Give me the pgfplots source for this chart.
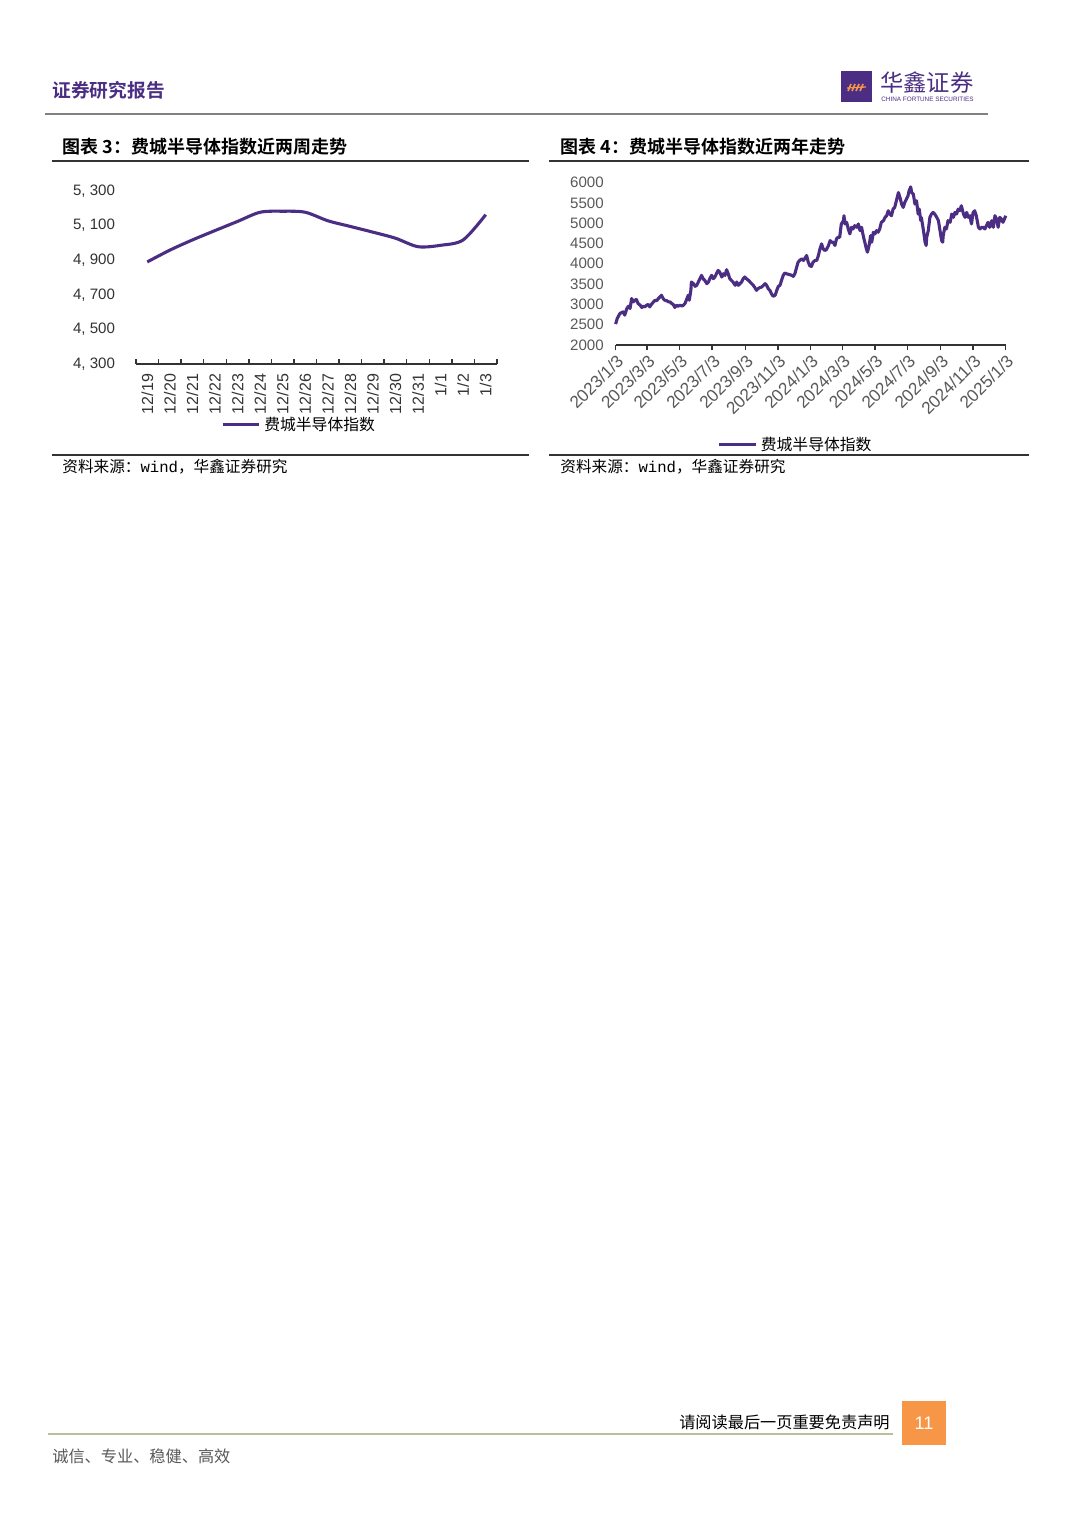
\documentclass[border=0pt]{standalone}
\usepackage{pgfplots}
\pgfplotsset{compat=1.18}
\usepackage{fontspec}
\setmainfont{Liberation Sans}
\newfontfamily\cjk{Noto Sans CJK SC}[BoldFont={Noto Sans CJK SC Bold}]
\newfontfamily\mono{Liberation Mono}
\definecolor{pur}{HTML}{4B2E83}
\definecolor{lgray}{HTML}{595959}
\definecolor{dgray}{HTML}{333333}
\definecolor{org}{HTML}{F79646}
\definecolor{olive}{HTML}{B9C096}
\pgfplotstableread{
d v
0 2515
3 2654
8 2776
14 2816
17 2735
21 2899
24 2955
27 2899
30 3144
33 3061
36 3103
39 3120
42 3022
46 2980
49 2924
52 2955
55 2940
58 2980
61 3000
64 2940
67 3000
71 3061
74 3103
77 3090
80 3144
83 3184
86 3225
89 3144
92 3103
96 3090
99 3061
102 3061
105 3022
108 3000
111 2924
114 2980
117 2955
121 2980
124 2960
127 2980
130 3022
133 3120
136 3225
138 3103
141 3347
142 3551
146 3510
149 3445
152 3470
155 3551
158 3633
161 3715
164 3633
167 3592
171 3510
174 3551
177 3650
180 3715
183 3633
186 3674
189 3756
192 3837
195 3796
199 3674
202 3756
205 3715
208 3854
211 3756
214 3633
217 3592
220 3551
224 3470
227 3551
230 3470
233 3510
236 3551
239 3633
242 3674
245 3633
249 3592
252 3551
255 3510
258 3470
261 3413
264 3347
267 3388
270 3413
274 3429
277 3470
280 3510
283 3470
286 3388
289 3347
292 3266
295 3200
299 3225
302 3347
305 3445
308 3470
311 3592
314 3715
317 3772
320 3756
324 3740
327 3730
330 3715
333 3690
336 3756
339 3903
342 4041
345 4083
349 4124
352 4083
355 4140
358 4205
361 4041
364 3950
367 3935
370 4041
374 4083
377 4083
380 4205
383 4369
386 4491
389 4369
392 4328
395 4350
399 4450
402 4573
405 4532
408 4532
411 4450
414 4614
417 4654
420 4654
423 4981
427 5063
428 5185
430 4981
433 5022
436 4859
439 4736
442 4899
445 4859
448 4940
452 4899
455 4981
458 4818
461 4899
464 4695
467 4532
470 4369
472 4287
475 4450
478 4695
480 4532
483 4777
486 4736
489 4818
492 4777
495 4859
498 5022
502 5063
505 5144
508 5185
511 5307
514 5226
517 5185
520 5348
523 5389
527 5593
530 5756
533 5634
536 5471
539 5389
542 5512
545 5593
548 5675
550 5797
553 5895
555 5756
558 5715
561 5471
564 5553
567 5226
569 5348
572 5063
573 5144
577 4818
580 4532
582 4450
583 4654
586 4818
589 5144
592 5226
595 5266
598 5226
602 5144
605 5063
608 4818
611 4573
613 4532
614 4695
617 4899
620 4859
623 5063
627 5022
630 5226
633 5144
636 5266
639 5226
642 5348
645 5307
648 5430
652 5226
655 5144
658 5266
661 5144
664 5185
667 4981
670 5266
673 5307
676 5185
680 4899
683 4859
686 4899
689 4899
692 4859
695 4940
698 5022
701 4899
705 5063
708 4899
711 5185
714 5103
717 4899
720 5144
723 5103
726 5022
730 5144
731 5185
}\twoyear
\pgfplotstableread{
x v
0 4890
1 4958
2 5017
3 5071
4 5124
5 5177
6 5183
7 5177
8 5128
9 5095
10 5062
11 5027
12 4978
13 4986
14 5017
15 5163
}\twoweek
\begin{document}
\begin{tikzpicture}
\path[fill=white,use as bounding box] (0pt,0pt) rectangle (594pt,840.4pt);
\begin{scope}[x=0.55pt,y=-0.55pt,yshift=840.4pt]
% header
\node[anchor=west,text=pur,font=\cjk\bfseries\fontsize{10.3pt}{12pt}\selectfont,inner sep=0pt] at (52,90) {证券研究报告};
\fill[pur] (841,71) rectangle (872,102);
\draw[org,line width=0.9pt] (848,91) -- (851,84) (852,91) -- (855,84) (856,91) -- (859,84) (860,91) -- (863,84);
\draw[org,line width=0.7pt] (847,88) -- (866,87);
\node[anchor=west,text=pur,font=\cjk\fontsize{12.8pt}{14pt}\selectfont,inner sep=0pt] at (880,83) {华鑫证券};
\node[anchor=west,text=pur,font=\fontsize{3.5pt}{4pt}\selectfont,inner sep=0pt] at (881,99.5) {CHINA FORTUNE SECURITIES};
\draw[gray,line width=0.6pt] (45,114) -- (988,114);
% titles
\node[anchor=west,font=\cjk\bfseries\fontsize{9.9pt}{12pt}\selectfont,inner sep=0pt] at (62,147) {图表 3：费城半导体指数近两周走势};
\node[anchor=west,font=\cjk\bfseries\fontsize{9.9pt}{12pt}\selectfont,inner sep=0pt] at (560,147) {图表 4：费城半导体指数近两年走势};
\draw[dgray,line width=0.6pt] (52,161) -- (529,161);
\draw[dgray,line width=0.6pt] (549,161) -- (1029,161);
\draw[dgray,line width=0.6pt] (52,455) -- (529,455);
\draw[dgray,line width=0.6pt] (549,455) -- (1029,455);
\node[anchor=west,font=\cjk\fontsize{8.6pt}{10pt}\selectfont,inner sep=0pt] at (62,467) {资料来源：{\mono wind}，华鑫证券研究};
\node[anchor=west,font=\cjk\fontsize{8.6pt}{10pt}\selectfont,inner sep=0pt] at (560,467) {资料来源：{\mono wind}，华鑫证券研究};
% footer
\node[anchor=east,font=\cjk\fontsize{8.9pt}{10pt}\selectfont,inner sep=0pt] at (890,1422) {请阅读最后一页重要免责声明};
\draw[olive,line width=0.6pt] (48,1434) -- (893,1434);
\fill[org] (902,1401) rectangle (946,1445);
\node[text=white,font=\fontsize{10pt}{12pt}\selectfont] at (924,1423) {11};
\node[anchor=west,text=lgray,font=\cjk\fontsize{8.9pt}{10pt}\selectfont,inner sep=0pt] at (52,1456) {诚信、专业、稳健、高效};
\end{scope}
% left chart
\begin{axis}[
  at={(74.8pt,640.2pt)}, anchor=south west,
  scale only axis, width=198.55pt, height=95.15pt,
  xmin=-0.5, xmax=15.5, ymin=4300, ymax=5300,
  axis x line*=bottom, axis y line*=left,
  y axis line style={draw=none}, ytick style={draw=none},
  x axis line style={dgray,line width=0.8pt,-},
  xtick={0,...,15},
  xticklabels={12/19,12/20,12/21,12/22,12/23,12/24,12/25,12/26,12/27,12/28,12/29,12/30,12/31,1/1,1/2,1/3},
  major x tick style={draw=none},
  minor xtick={-0.5,0.5,...,15.5},
  minor x tick style={dgray,line width=0.8pt},
  xtick align=inside, minor tick length=2.5pt,
  xticklabel style={rotate=90,anchor=east,font=\fontsize{8.8pt}{10pt}\selectfont,text=dgray,xshift=-2pt},
  ytick={4300,4500,4700,4900,5100,5300},
  yticklabels={{4, 300},{4, 500},{4, 700},{4, 900},{5, 100},{5, 300}},
  yticklabel style={font=\fontsize{8.3pt}{10pt}\selectfont,text=dgray,xshift=-8pt},
  legend style={draw=none,fill=none,at={(0.454,-0.352)},anchor=center,font=\cjk\fontsize{8.7pt}{10pt}\selectfont},
  legend image code/.code={\draw[#1,line width=1.7pt] (0pt,0pt) -- (20pt,0pt);},
  clip=false,
]
\addplot[pur,line width=1.7pt,smooth,tension=0.5] table[x=x,y=v] {\twoweek};
\addlegendentry{费城半导体指数}
\end{axis}
% right chart
\begin{axis}[
  at={(338.6pt,650.65pt)}, anchor=south west,
  scale only axis, width=214.5pt, height=89.3pt,
  xmin=0, xmax=731, ymin=2000, ymax=6000,
  axis x line*=bottom, axis y line*=left,
  y axis line style={draw=none}, ytick style={draw=none},
  x axis line style={dgray,line width=0.8pt,-},
  xtick={0,59,120,181,243,304,365,425,486,547,609,670,731},
  xticklabels={2023/1/3,2023/3/3,2023/5/3,2023/7/3,2023/9/3,2023/11/3,2024/1/3,2024/3/3,2024/5/3,2024/7/3,2024/9/3,2024/11/3,2025/1/3},
  xtick align=outside, major tick length=3pt,
  major x tick style={dgray,line width=0.8pt},
  xticklabel style={rotate=45,anchor=north east,font=\fontsize{9.5pt}{10pt}\selectfont,text=lgray,inner sep=1pt},
  ytick={2000,2500,...,6000},
  /pgf/number format/assume math mode=true,
  /pgf/number format/1000 sep={},
  yticklabel style={font=\fontsize{8.3pt}{10pt}\selectfont,text=lgray,xshift=-3pt},
  legend style={draw=none,fill=none,at={(0.4636,-0.615)},anchor=center,font=\cjk\fontsize{8.7pt}{10pt}\selectfont},
  legend image code/.code={\draw[#1,line width=1.7pt] (0pt,0pt) -- (20pt,0pt);},
  clip=false,
]
\addplot[pur,line width=1.7pt,line join=round] table[x=d,y=v] {\twoyear};
\addlegendentry{费城半导体指数}
\end{axis}
\end{tikzpicture}
\end{document}
